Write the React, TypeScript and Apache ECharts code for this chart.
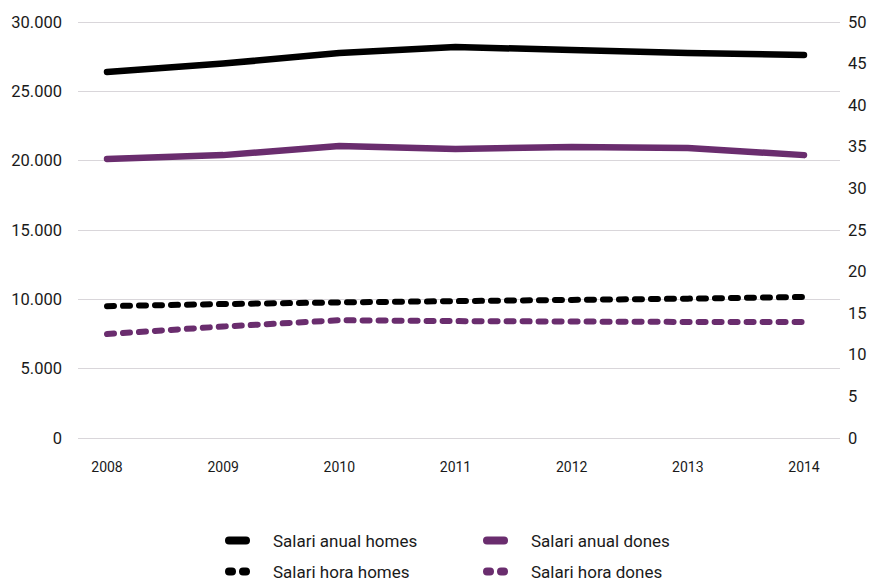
import React, { useEffect, useRef } from "react";
import * as echarts from "echarts";

const years = ["2008", "2009", "2010", "2011", "2012", "2013", "2014"];
const annualMen = [26390, 27000, 27760, 28200, 27980, 27760, 27620];
const annualWomen = [20120, 20400, 21060, 20840, 20990, 20920, 20400];
const hourlyMen = [15.85, 16.1, 16.3, 16.45, 16.6, 16.75, 16.95];
const hourlyWomen = [12.5, 13.4, 14.15, 14.05, 14.0, 13.95, 13.95];
const seriesNames = ["Salari anual homes", "Salari anual dones", "Salari hora homes", "Salari hora dones"];

const BLACK = "#000000";
const PURPLE = "#6a2d6e";
const FONT = "Roboto";

const solidIcon = "path://M4,0 H21 A4,4 0 0 1 21,8 H4 A4,4 0 0 1 4,0 Z";
const dashIcon =
  "path://M4,0 H7 A4,4 0 0 1 7,8 H4 A4,4 0 0 1 4,0 Z M18,0 H21 A4,4 0 0 1 21,8 H18 A4,4 0 0 1 18,0 Z";

function fmtThousands(v: number) {
  return String(v).replace(/\B(?=(\d{3})+(?!\d))/g, ".");
}

function makeLegend(name: string, icon: string, left: number, top: number) {
  return {
    data: [{ name, icon }],
    left,
    top,
    itemWidth: 25,
    itemHeight: 8,
    padding: 0,
    selectedMode: false,
    formatter: (n: string) => `{t|${n}}`,
    textStyle: {
      rich: { t: { fontFamily: FONT, fontSize: 17, lineHeight: 18, color: "#1a1a1a", padding: [0, 0, 0, 18] } },
    },
  };
}

export default function App() {
  const ref = useRef<HTMLDivElement>(null);
  useEffect(() => {
    if (!ref.current) return;
    const chart = echarts.init(ref.current, null, { renderer: "svg" });
    chart.setOption({
      animation: false,
      backgroundColor: "#ffffff",
      textStyle: { fontFamily: FONT },
      grid: [
        { left: 78, right: 31, top: 22, bottom: 142 },
        { left: 107, right: 67, top: 22, bottom: 142 },
      ],
      xAxis: [
        {
          type: "category",
          gridIndex: 1,
          data: years,
          boundaryGap: false,
          axisLine: { show: false },
          axisTick: { show: false },
          axisLabel: { fontFamily: FONT, fontSize: 14, color: "#1a1a1a", margin: 22 },
        },
        { type: "category", gridIndex: 0, data: years, show: false },
      ],
      yAxis: [
        {
          type: "value",
          gridIndex: 0,
          min: 0,
          max: 30000,
          interval: 5000,
          axisLine: { show: false },
          axisTick: { show: false },
          splitLine: { show: true, lineStyle: { color: "#d9d6da", width: 1 } },
          axisLabel: { fontFamily: FONT, fontSize: 16.5, color: "#1a1a1a", margin: 16, formatter: fmtThousands },
        },
        {
          type: "value",
          gridIndex: 0,
          position: "right",
          min: 0,
          max: 50,
          interval: 5,
          axisLine: { show: false },
          axisTick: { show: false },
          splitLine: { show: false },
          axisLabel: { fontFamily: FONT, fontSize: 16.5, color: "#1a1a1a", margin: 8 },
        },
        { type: "value", gridIndex: 1, min: 0, max: 30000, show: false, splitLine: { show: false } },
        { type: "value", gridIndex: 1, min: 0, max: 50, show: false, splitLine: { show: false } },
      ],
      legend: [
        makeLegend(seriesNames[0], solidIcon, 225, 532),
        makeLegend(seriesNames[1], solidIcon, 483, 532),
        makeLegend(seriesNames[2], dashIcon, 225, 563),
        makeLegend(seriesNames[3], dashIcon, 483, 563),
      ],
      series: [
        {
          name: seriesNames[0],
          type: "line",
          xAxisIndex: 0,
          yAxisIndex: 2,
          data: annualMen,
          symbol: "none",
          color: BLACK,
          lineStyle: { color: BLACK, width: 6.5, cap: "round", join: "round" },
        },
        {
          name: seriesNames[1],
          type: "line",
          xAxisIndex: 0,
          yAxisIndex: 2,
          data: annualWomen,
          symbol: "none",
          color: PURPLE,
          lineStyle: { color: PURPLE, width: 6.5, cap: "round", join: "round" },
        },
        {
          name: seriesNames[2],
          type: "line",
          xAxisIndex: 0,
          yAxisIndex: 3,
          data: hourlyMen,
          symbol: "none",
          color: BLACK,
          lineStyle: { color: BLACK, width: 6, type: [7, 9], cap: "round", join: "round" },
        },
        {
          name: seriesNames[3],
          type: "line",
          xAxisIndex: 0,
          yAxisIndex: 3,
          data: hourlyWomen,
          symbol: "none",
          color: PURPLE,
          lineStyle: { color: PURPLE, width: 6, type: [7, 9], cap: "round", join: "round" },
        },
      ],
    });
    return () => chart.dispose();
  }, []);
  return (
    <div
      ref={ref}
      style={{ position: "fixed", left: 0, top: 0, width: 871, height: 580, background: "#fff" }}
    />
  );
}
